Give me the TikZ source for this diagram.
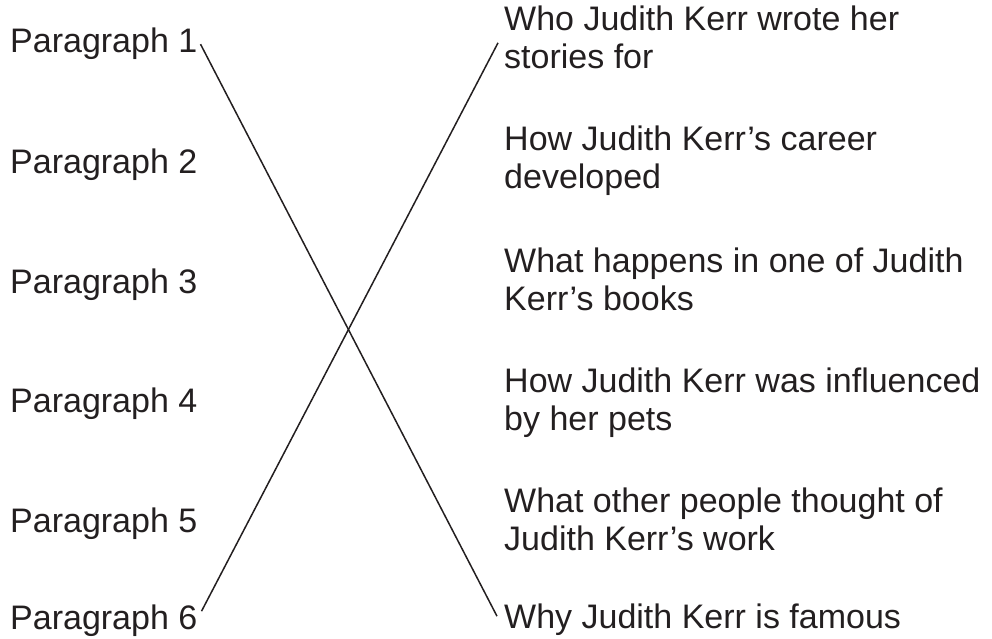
\documentclass[tikz,border=0pt]{standalone}
\usepackage{fontspec}
\setmainfont{Liberation Sans}
\definecolor{ink}{HTML}{231F20}
\begin{document}
\begin{tikzpicture}[x=1pt,y=-1pt,
  lbl/.style={anchor=base west,inner sep=0pt,text=ink,font=\fontsize{34}{38}\selectfont,align=left},
  link/.style={draw=ink,line width=1.5pt}]
\useasboundingbox (0,0) rectangle (992,639);
\node[lbl] (p1) at (10,53) {Paragraph 1};
\node[lbl] (p2) at (10,173) {Paragraph 2};
\node[lbl] (p3) at (10,293) {Paragraph 3};
\node[lbl] (p4) at (10,412) {Paragraph 4};
\node[lbl] (p5) at (10,532) {Paragraph 5};
\node[lbl] (p6) at (10,629) {Paragraph 6};
\node[lbl] (r1) at (504,69) {Who Judith Kerr wrote her\\stories for};
\node[lbl] (r2) at (504,189) {How Judith Kerr’s career\\developed};
\node[lbl] (r3) at (504,310) {What happens in one of Judith\\Kerr’s books};
\node[lbl] (r4) at (504,430) {How Judith Kerr was influenced\\by her pets};
\node[lbl] (r5) at (504,550) {What other people thought of\\Judith Kerr’s work};
\node[lbl] (r6) at (504,628) {Why Judith Kerr is famous};
\coordinate (a1) at ([xshift=3pt]p1.east);
\coordinate (b6) at ([xshift=-7pt,yshift=3pt]r6.west);
\coordinate (a6) at ([xshift=4pt,yshift=-7pt]p6.north east);
\coordinate (b1) at ([xshift=-6pt,yshift=-5pt]r1.west);
\draw[link] (a1) -- (b6);
\draw[link] (a6) -- (b1);
\end{tikzpicture}
\end{document}
